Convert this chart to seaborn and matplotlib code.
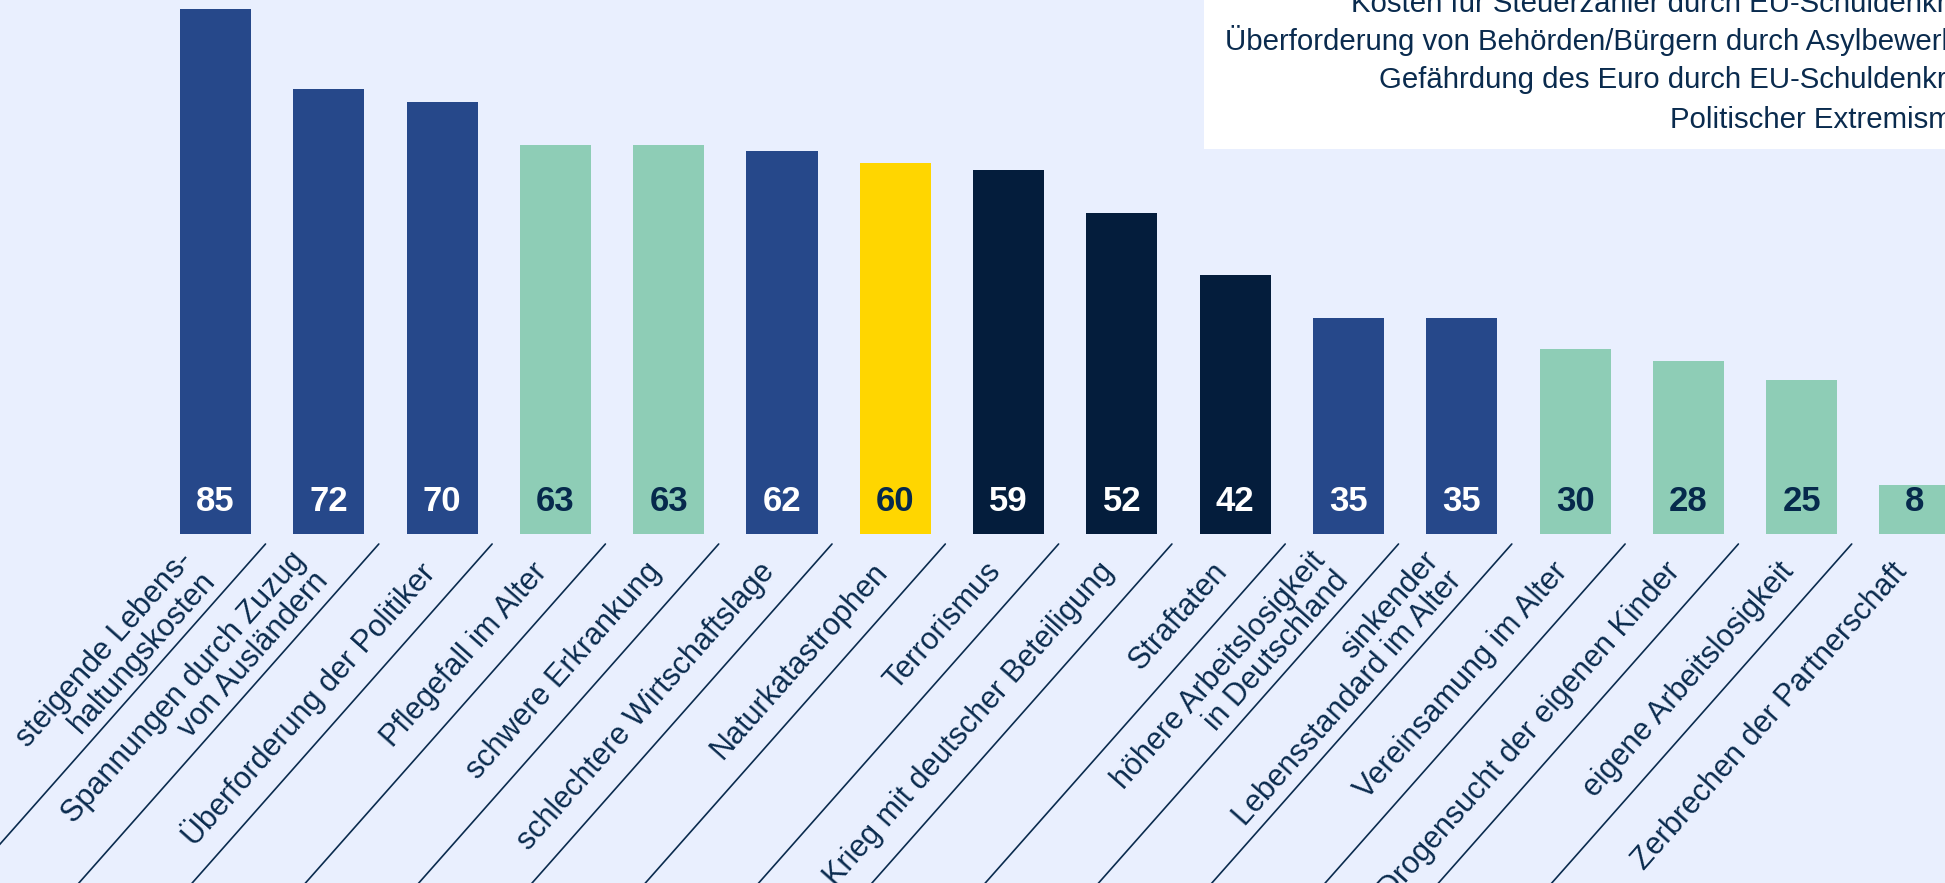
import matplotlib
matplotlib.use("Agg")
import matplotlib.pyplot as plt
from matplotlib.transforms import ScaledTranslation
from matplotlib.patches import Rectangle
import seaborn as sns
import pandas as pd
import numpy as np

# ---------------- data ----------------
categories = [
    "steigende Lebens-\nhaltungskosten",
    "Spannungen durch Zuzug\nvon Ausländern",
    "Überforderung der Politiker",
    "Pflegefall im Alter",
    "schwere Erkrankung",
    "schlechtere Wirtschaftslage",
    "Naturkatastrophen",
    "Terrorismus",
    "Krieg mit deutscher Beteiligung",
    "Straftaten",
    "höhere Arbeitslosigkeit\nin Deutschland",
    "sinkender\nLebensstandard im Alter",
    "Vereinsamung im Alter",
    "Drogensucht der eigenen Kinder",
    "eigene Arbeitslosigkeit",
    "Zerbrechen der Partnerschaft",
]
values = [85, 72, 70, 63, 63, 62, 60, 59, 52, 42, 35, 35, 30, 28, 25, 8]
groups = ["blue", "blue", "blue", "mint", "mint", "blue", "yellow", "navy",
          "navy", "navy", "blue", "blue", "mint", "mint", "mint", "mint"]
legend_lines = [
    "Kosten für Steuerzahler durch EU-Schuldenkrise",
    "Überforderung von Behörden/Bürgern durch Asylbewerber",
    "Gefährdung des Euro durch EU-Schuldenkrise",
    "Politischer Extremismus",
]

# ---------------- style ----------------
palette = {"blue": "#26488A", "mint": "#8ECDB6", "yellow": "#FFD600", "navy": "#041D3C"}
value_color = {"blue": "white", "navy": "white", "mint": "#06294C", "yellow": "#06294C"}
bg = "#E9EFFE"
txt = "#0A2B4E"

sns.set_theme(style="white")
plt.rcParams["font.family"] = ["Liberation Sans", "DejaVu Sans"]

W, H = 1945, 883
fig = plt.figure(figsize=(W / 100, H / 100), dpi=100)
fig.patch.set_facecolor(bg)
bottom_px = 534
ax = fig.add_axes([0, 1 - bottom_px / H, 1, bottom_px / H])
ax.set_facecolor(bg)

df = pd.DataFrame({"cat": categories, "val": values, "grp": groups})
sns.barplot(data=df, x="cat", y="val", hue="grp", palette=palette, dodge=False,
            width=0.627, saturation=1, legend=False, linewidth=0, edgecolor="none", ax=ax)

pitch = 113.3
unit = 6.176
ax.set_xlim(-215.5 / pitch, (W - 215.5) / pitch)
ax.set_ylim(0, bottom_px / unit)
for s in ax.spines.values():
    s.set_visible(False)
ax.set_yticks([])
ax.set_ylabel("")
ax.set_xlabel("")

# value labels
for i, (v, g) in enumerate(zip(values, groups)):
    ax.text(i, 3.72, str(v), ha="center", va="baseline", fontsize=25,
            fontweight="bold", color=value_color[g])

# tick labels
rot = 48.5
ax.set_xticks(range(len(categories)))
ax.set_xticklabels(categories, rotation=rot, ha="right", va="center",
                   rotation_mode="anchor", fontsize=22, color=txt, linespacing=1.0)
ax.tick_params(axis="x", length=0, pad=23.7)
for lbl, name in zip(ax.get_xticklabels(), categories):
    dx, dy = -12.7, 0.0
    if "\n" in name:
        dx, dy = dx - 4.0, dy + 1.0
    lbl.set_transform(lbl.get_transform() + ScaledTranslation(dx / 100, dy / 100, fig.dpi_scale_trans))

# diagonal separators
ang = np.deg2rad(rot)
L = 800
for i in range(len(categories) - 1):
    x0 = i + 50 / pitch
    y0 = -10 / unit
    x1 = x0 - L * np.cos(ang) / pitch
    y1 = y0 - L * np.sin(ang) / unit
    ax.plot([x0, x1], [y0, y1], color=txt, lw=1.2, clip_on=False)

# white legend box (top right, cropped)
fig.patches.append(Rectangle((1204 / W, 1 - 149 / H), 1, 149 / H,
                             transform=fig.transFigure, facecolor="white",
                             edgecolor="none", zorder=5))
for yy, line in zip([4, 41, 80, 120], legend_lines):
    fig.text(1984 / W, 1 - yy / H, line, ha="right", va="center", fontsize=21.2,
             color=txt, zorder=6)

fig.savefig("out.png", dpi=100, facecolor=bg)
